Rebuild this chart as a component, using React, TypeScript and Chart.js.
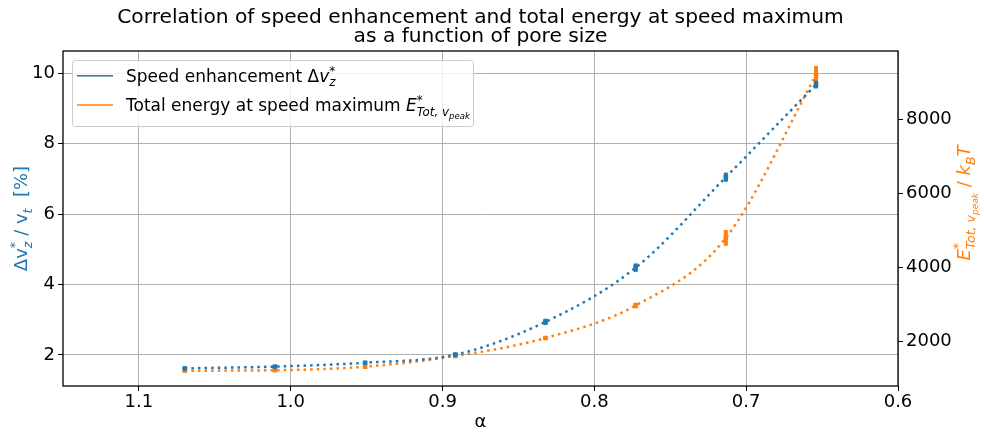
import React, { useEffect, useRef } from 'react';
import { Chart, registerables } from 'chart.js';

Chart.register(...registerables);

// ---- data ----
const ALPHA = [1.0698, 1.0104, 0.951, 0.8916, 0.8322, 0.7728, 0.7134, 0.654];
const SPEED = [1.62, 1.67, 1.78, 2.01, 2.94, 4.48, 7.05, 9.68];
const SPEED_ERR = [0.02, 0.02, 0.03, 0.06, 0.09, 0.12, 0.13, 0.11];
const ENERGY = [1219, 1232, 1327, 1615, 2100, 2975, 4797, 9181];
const ENERGY_ERR = [20, 20, 25, 35, 50, 75, 212, 247];
const X_TICKS = [1.1, 1.0, 0.9, 0.8, 0.7, 0.6];
const Y_TICKS = [2, 4, 6, 8, 10];
const Y1_TICKS = [2000, 4000, 6000, 8000];
const TITLE_LINES = [
  'Correlation of speed enhancement and total energy at speed maximum',
  'as a function of pore size',
];
const X_LABEL = 'α';

type Seg = { t: string; it?: boolean; sz?: number; dy?: number; stack?: boolean };

const LEGEND_SPEED: Seg[] = [
  { t: 'Speed enhancement Δ' },
  { t: 'v', it: true },
  { t: '*', sz: 0.7, dy: -0.42, stack: true },
  { t: 'z', it: true, sz: 0.7, dy: 0.28 },
];
const LEGEND_ENERGY: Seg[] = [
  { t: 'Total energy at speed maximum ' },
  { t: 'E', it: true },
  { t: '*', sz: 0.7, dy: -0.42, stack: true },
  { t: 'Tot, v', it: true, sz: 0.7, dy: 0.28 },
  { t: 'peak', it: true, sz: 0.5, dy: 0.45 },
];
const Y_LABEL: Seg[] = [
  { t: 'Δv' },
  { t: '*', sz: 0.7, dy: -0.42, stack: true },
  { t: 'z', it: true, sz: 0.7, dy: 0.28 },
  { t: ' / v' },
  { t: 't', it: true, sz: 0.7, dy: 0.28 },
  { t: '  [%]' },
];
const Y1_LABEL: Seg[] = [
  { t: 'E', it: true },
  { t: '*', sz: 0.7, dy: -0.42, stack: true },
  { t: 'Tot, v', it: true, sz: 0.7, dy: 0.28 },
  { t: 'peak', it: true, sz: 0.5, dy: 0.45 },
  { t: ' / ' },
  { t: 'k', it: true },
  { t: 'B', it: true, sz: 0.7, dy: 0.28 },
  { t: 'T', it: true },
];

const BLUE = '#1f77b4';
const ORANGE = '#ff7f0e';
const FONT = "'DejaVu Sans'";
const FS = 18;
const TITLE_FS = 20.2;

function rich(ctx: CanvasRenderingContext2D, segs: Seg[], x: number, y: number, size: number, draw: boolean): number {
  let cx = x;
  let pending = 0;
  for (const s of segs) {
    const fs = size * (s.sz ?? 1);
    ctx.font = `${s.it ? 'italic ' : ''}${fs}px ${FONT}`;
    const w = ctx.measureText(s.t).width;
    if (draw) ctx.fillText(s.t, cx, y + (s.dy ?? 0) * size);
    if (s.stack) {
      pending = w;
    } else {
      cx += Math.max(w, pending);
      pending = 0;
    }
  }
  return cx - x;
}

const deco = {
  id: 'deco',
  afterDatasetDraw(chart: any, args: any) {
    const ctx = chart.ctx as CanvasRenderingContext2D;
    const i = args.index;
    const vals = i === 0 ? SPEED : ENERGY;
    const errs = i === 0 ? SPEED_ERR : ENERGY_ERR;
    const ys = chart.scales[i === 0 ? 'y' : 'y1'];
    const xs = chart.scales.x;
    ctx.save();
    ctx.fillStyle = i === 0 ? BLUE : ORANGE;
    ALPHA.forEach((a, j) => {
      const px = xs.getPixelForValue(a);
      const top = ys.getPixelForValue(vals[j] + errs[j]);
      const bot = ys.getPixelForValue(vals[j] - errs[j]);
      ctx.fillRect(px - 2, top, 4, Math.max(bot - top, 1));
    });
    ctx.restore();
  },
  afterDatasetsDraw(chart: any) {
    const ctx = chart.ctx as CanvasRenderingContext2D;
    const a = chart.chartArea;
    ctx.save();
    // frame
    ctx.strokeStyle = '#000';
    ctx.lineWidth = 1.3;
    ctx.strokeRect(a.left, a.top, a.right - a.left, a.bottom - a.top);
    // legend
    const lx = 72.5, ly = 60.5, lw = 401, lh = 66;
    const r = 3;
    ctx.beginPath();
    ctx.moveTo(lx + r, ly);
    ctx.arcTo(lx + lw, ly, lx + lw, ly + lh, r);
    ctx.arcTo(lx + lw, ly + lh, lx, ly + lh, r);
    ctx.arcTo(lx, ly + lh, lx, ly, r);
    ctx.arcTo(lx, ly, lx + lw, ly, r);
    ctx.closePath();
    ctx.fillStyle = 'rgba(255,255,255,0.8)';
    ctx.fill();
    ctx.strokeStyle = '#cccccc';
    ctx.lineWidth = 1;
    ctx.stroke();
    const rows: [string, Seg[], number][] = [
      [BLUE, LEGEND_SPEED, 75.7],
      [ORANGE, LEGEND_ENERGY, 105],
    ];
    ctx.textBaseline = 'alphabetic';
    ctx.textAlign = 'left';
    rows.forEach(([col, segs, y]) => {
      ctx.strokeStyle = col;
      ctx.lineWidth = 1.5;
      ctx.beginPath();
      ctx.moveTo(77, y);
      ctx.lineTo(113, y);
      ctx.stroke();
      ctx.fillStyle = '#000';
      rich(ctx, segs, 126, y + 6, 17, true);
    });
    ctx.restore();
  },
  afterDraw(chart: any) {
    const ctx = chart.ctx as CanvasRenderingContext2D;
    const a = chart.chartArea;
    const cx = (a.left + a.right) / 2;
    ctx.save();
    ctx.fillStyle = '#000';
    ctx.textAlign = 'center';
    ctx.textBaseline = 'alphabetic';
    ctx.font = `${TITLE_FS}px ${FONT}`;
    ctx.fillText(TITLE_LINES[0], cx, 22.5);
    ctx.fillText(TITLE_LINES[1], cx, 42);
    ctx.font = `${FS}px ${FONT}`;
    ctx.fillText(X_LABEL, cx, 426.5);
    ctx.textAlign = 'left';
    // left label
    ctx.save();
    ctx.translate(26.5, (a.top + a.bottom) / 2);
    ctx.rotate(-Math.PI / 2);
    ctx.fillStyle = BLUE;
    let w = rich(ctx, Y_LABEL, 0, 0, FS, false);
    rich(ctx, Y_LABEL, -w / 2, 0, FS, true);
    ctx.restore();
    // right label
    ctx.save();
    ctx.translate(970, 203);
    ctx.rotate(-Math.PI / 2);
    ctx.fillStyle = ORANGE;
    w = rich(ctx, Y1_LABEL, 0, 0, FS, false);
    rich(ctx, Y1_LABEL, -w / 2, 0, FS, true);
    ctx.restore();
    ctx.restore();
  },
};

const gridCommon = {
  color: '#b0b0b0',
  lineWidth: 1,
  tickColor: '#000',
  tickLength: 5,
  tickWidth: 1,
};
const tickFont = { family: FONT, size: FS };

export default function App() {
  const ref = useRef<HTMLCanvasElement>(null);
  useEffect(() => {
    const canvas = ref.current!;
    const chart = new Chart(canvas, {
      type: 'line',
      data: {
        datasets: [
          {
            label: 'Speed enhancement',
            data: ALPHA.map((x, i) => ({ x, y: SPEED[i] })),
            yAxisID: 'y',
            borderColor: BLUE,
            backgroundColor: BLUE,
            borderWidth: 2.5,
            borderDash: [2.5, 4.1],
            borderCapStyle: 'butt',
            cubicInterpolationMode: 'monotone',
            pointStyle: 'rect',
            pointRadius: 3.2,
            pointBorderWidth: 0,
            pointBackgroundColor: BLUE,
            fill: false,
          },
          {
            label: 'Total energy',
            data: ALPHA.map((x, i) => ({ x, y: ENERGY[i] })),
            yAxisID: 'y1',
            borderColor: ORANGE,
            backgroundColor: ORANGE,
            borderWidth: 2.5,
            borderDash: [2.5, 4.1],
            borderCapStyle: 'butt',
            cubicInterpolationMode: 'monotone',
            pointStyle: 'rect',
            pointRadius: 3.2,
            pointBorderWidth: 0,
            pointBackgroundColor: ORANGE,
            fill: false,
          },
        ],
      } as any,
      options: {
        animation: false,
        responsive: false,
        devicePixelRatio: 1,
        layout: { padding: { top: 51, left: 0, right: 0, bottom: 0 } },
        plugins: {
          legend: { display: false },
          title: { display: false },
          tooltip: { enabled: false },
        },
        scales: {
          x: {
            type: 'linear',
            reverse: true,
            min: 0.6,
            max: 1.15,
            afterBuildTicks: (s: any) => {
              s.ticks = X_TICKS.map((v) => ({ value: v }));
            },
            afterFit: (s: any) => {
              s.height = 49;
            },
            grid: gridCommon,
            border: { display: false },
            ticks: {
              color: '#000',
              font: tickFont,
              padding: 1,
              maxRotation: 0,
              autoSkip: false,
              callback: (v: any) => Number(v).toFixed(1),
            },
          },
          y: {
            type: 'linear',
            position: 'left',
            min: 1.119,
            max: 10.634,
            afterBuildTicks: (s: any) => {
              s.ticks = Y_TICKS.map((v) => ({ value: v }));
            },
            afterFit: (s: any) => {
              s.width = 63;
            },
            grid: gridCommon,
            border: { display: false },
            ticks: {
              color: '#000',
              font: tickFont,
              padding: 3,
              autoSkip: false,
              callback: (v: any) => String(v),
            },
          },
          y1: {
            type: 'linear',
            position: 'right',
            min: 807,
            max: 9832,
            afterBuildTicks: (s: any) => {
              s.ticks = Y1_TICKS.map((v) => ({ value: v }));
            },
            afterFit: (s: any) => {
              s.width = 86;
            },
            grid: { ...gridCommon, drawOnChartArea: false },
            border: { display: false },
            ticks: {
              color: '#000',
              font: tickFont,
              padding: 3,
              autoSkip: false,
              callback: (v: any) => String(v),
            },
          },
        },
      } as any,
      plugins: [deco as any],
    });
    return () => chart.destroy();
  }, []);
  return (
    <div style={{ position: 'absolute', left: 0, top: 0, width: 984, height: 435, background: '#fff' }}>
      <canvas ref={ref} width={984} height={435} style={{ display: 'block', width: 984, height: 435 }} />
    </div>
  );
}
